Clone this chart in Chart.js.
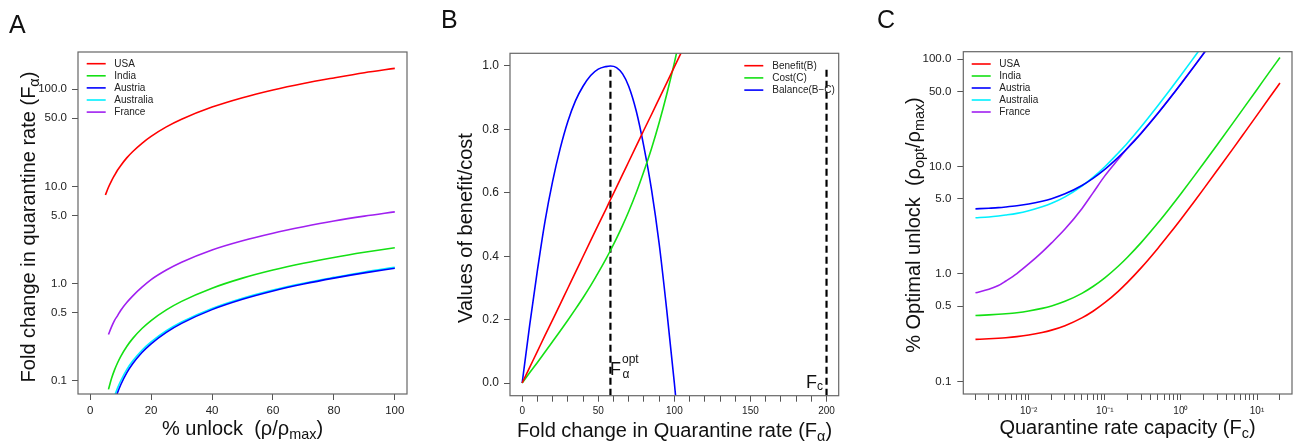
<!DOCTYPE html>
<html>
<head>
<meta charset="utf-8">
<script src="https://cdn.jsdelivr.net/npm/chart.js@4.4.1/dist/chart.umd.min.js"></script>
<style>
  html, body { margin: 0; padding: 0; background: #fff; }
  #fig { position: relative; width: 1298px; height: 445px; overflow: hidden;
         font-family: "Liberation Sans", Arial, sans-serif; color: #111; }
  canvas { position: absolute; top: 0; }
  .lbl { position: absolute; line-height: 1; white-space: pre; }
  .panel { font-size: 25px; }
  .xt { font-size: 20px; text-align: center; }
  .yt { font-size: 20px; text-align: center; height: 20px; transform: rotate(-90deg); }
  .lbl sub { font-size: 0.72em; vertical-align: -0.28em; line-height: 0; }
</style>
</head>
<body>
<div id="fig">
  <canvas id="chartA" width="430" height="445" style="left:0px"></canvas>
  <canvas id="chartB" width="430" height="445" style="left:430px"></canvas>
  <canvas id="chartC" width="438" height="445" style="left:860px"></canvas>

  <div class="lbl panel" style="left:9px;top:12px">A</div>
  <div class="lbl panel" style="left:441px;top:7px">B</div>
  <div class="lbl panel" style="left:877px;top:7px">C</div>

  <div class="lbl xt" style="left:78px;width:329px;top:418px">% unlock  (ρ/ρ<sub>max</sub>)</div>
  <div class="lbl yt" style="left:-161.9px;width:380px;top:216.7px">Fold change in quarantine rate (F<sub>α</sub>)</div>

  <div class="lbl xt" style="left:510px;width:329px;top:420px">Fold change in Quarantine rate (F<sub>α</sub>)</div>
  <div class="lbl yt" style="left:315.1px;width:300px;top:217.5px">Values of benefit/cost</div>
  <div class="lbl" style="left:610px;top:359.5px;font-size:18px">F</div>
  <div class="lbl" style="left:622px;top:352.8px;font-size:12px">opt</div>
  <div class="lbl" style="left:622.5px;top:367.8px;font-size:12px">α</div>
  <div class="lbl" style="left:806px;top:372.8px;font-size:18px">F</div>
  <div class="lbl" style="left:817px;top:380px;font-size:12px">c</div>

  <div class="lbl xt" style="left:963px;width:329px;top:417px">Quarantine rate capacity (F<sub>c</sub>)</div>
  <div class="lbl yt" style="left:753.1px;width:320px;top:215px">% Optimal unlock  (ρ<sub>opt</sub>/ρ<sub>max</sub>)</div>
</div>

<script>
// ---- panel A: fold change in quarantine rate vs % unlock ----
const unlockPct = [5, 6, 7, 8, 9, 10, 12, 14, 17, 20, 25, 30, 40, 50, 60, 70, 80, 90, 100];
const usaA       = [8.15, 9.78, 11.4, 13.0, 14.7, 16.3, 19.6, 22.8, 27.7, 32.6, 40.8, 48.9, 65.2, 81.5, 97.8, 114, 130, 147, 163];
const indiaA     = [null, 0.082, 0.106, 0.130, 0.154, 0.178, 0.226, 0.274, 0.346, 0.418, 0.538, 0.658, 0.898, 1.14, 1.38, 1.62, 1.86, 2.10, 2.34];
const austriaA   = [null, null, null, 0.061, 0.076, 0.091, 0.121, 0.151, 0.196, 0.241, 0.316, 0.391, 0.541, 0.691, 0.841, 0.991, 1.14, 1.29, 1.44];
const australiaA = [null, null, null, 0.070, 0.085, 0.100, 0.131, 0.161, 0.207, 0.252, 0.328, 0.404, 0.556, 0.708, 0.860, 1.01, 1.16, 1.32, 1.47];
const franceA    = [null, 0.30, 0.36, 0.42, 0.47, 0.53, 0.64, 0.75, 0.92, 1.10, 1.38, 1.66, 2.22, 2.76, 3.30, 3.84, 4.40, 4.94, 5.47];
const unlockTicks = [0, 20, 40, 60, 80, 100];
const foldTicksLog = [0.1, 0.5, 1, 5, 10, 50, 100];

// ---- panel B: benefit / cost / balance ----
const foldQ   = [0, 5, 10, 15, 20, 25, 30, 35, 40, 45, 50, 55, 58, 62, 66, 70, 75, 80, 85, 90, 95, 100, 105];
const benefit = [0, 0.050, 0.100, 0.150, 0.199, 0.249, 0.299, 0.349, 0.399, 0.449, 0.499, 0.548, 0.578, 0.618, 0.658, 0.698, 0.748, 0.798, 0.847, 0.897, 0.947, 0.997, 1.047];
const cost    = [0, 0.033, 0.065, 0.098, 0.131, 0.164, 0.198, 0.233, 0.269, 0.307, 0.348, 0.391, 0.418, 0.456, 0.497, 0.541, 0.601, 0.668, 0.740, 0.821, 0.911, 1.010, 1.120];
const balance = [0, 0.185, 0.355, 0.510, 0.636, 0.740, 0.825, 0.890, 0.936, 0.970, 0.990, 0.998, 1.000, 0.995, 0.975, 0.936, 0.857, 0.745, 0.610, 0.440, 0.230, 0.000, -0.250];
const fOpt = 58;
const fCap = 200;
const vlineY = [-0.04, 1.0];
const foldTicksB = [0, 10, 20, 30, 40, 50, 60, 70, 80, 90, 100, 110, 120, 130, 140, 150, 160, 170, 180, 190, 200];
const valueTicksB = [0, 0.2, 0.4, 0.6, 0.8, 1.0];

// ---- panel C: optimal unlock vs quarantine rate capacity ----
const capacity   = [0.002, 0.003, 0.004, 0.005, 0.007, 0.01, 0.015, 0.02, 0.03, 0.05, 0.07, 0.1, 0.15, 0.2, 0.3, 0.5, 0.7, 1, 1.5, 2, 3, 5, 7, 10, 15, 20];
const usaC       = [0.246, 0.249, 0.252, 0.255, 0.261, 0.27, 0.285, 0.30, 0.33, 0.39, 0.45, 0.54, 0.69, 0.84, 1.14, 1.74, 2.34, 3.24, 4.74, 6.24, 9.24, 15.2, 21.2, 30.2, 45.2, 60.2];
const indiaC     = [0.41, 0.416, 0.421, 0.426, 0.436, 0.452, 0.478, 0.504, 0.556, 0.66, 0.764, 0.92, 1.18, 1.44, 1.96, 3.0, 4.04, 5.6, 8.2, 10.8, 16.0, 26.4, 36.8, 52.4, 78.4, 104];
const austriaC   = [4.04, 4.10, 4.15, 4.21, 4.32, 4.48, 4.76, 5.03, 5.58, 6.68, 7.78, 9.43, 12.2, 14.9, 20.4, 31.4, 42.4, 58.9, 86.4, 114, 169, null, null, null, null, null];
const australiaC = [3.34, 3.40, 3.47, 3.54, 3.67, 3.88, 4.22, 4.55, 5.23, 6.59, 7.94, 9.97, 13.4, 16.7, 23.5, 37.1, 50.6, 70.9, 105, 139, null, null, null, null, null, null];
const franceC    = [0.668, 0.72, 0.78, 0.86, 1.01, 1.24, 1.60, 1.95, 2.62, 4.06, 5.7, 8.2, 11.7, 15.0, 20.6, 31.6, 42.6, 59.1, 86.6, 114.2, 169.5, null, null, null, null, null];
const capDecades = [-3, -2, -1, 0, 1];
const unlockTicksLog = [0.1, 0.5, 1, 5, 10, 50, 100];

const FONT = 'Liberation Sans';
const TICK_COLOR = '#555';
const colors = { usa: '#FF0000', india: '#14E014', austria: '#0000FF', australia: '#00F0FF', france: '#A020F0' };

function pts(xs, ys) {
    const out = [];
    xs.forEach((x, i) => { if (ys[i] !== null) out.push({ x: x, y: ys[i] }); });
    return out;
}

function curve(label, xs, ys, color) {
    return {
        label: label, data: pts(xs, ys), borderColor: color, backgroundColor: color,
        borderWidth: 1.6, pointRadius: 0, cubicInterpolationMode: 'monotone', clip: 0,
    };
}

function fixedTicks(values) {
    return (scale) => { scale.ticks = values.map(v => ({ value: v })); };
}

// legend drawn inside the plot box, R style
const insetLegend = {
    id: 'insetLegend',
    afterDraw(chart, args, opts) {
        const ctx = chart.ctx;
        ctx.save();
        ctx.font = opts.font;
        ctx.textBaseline = 'middle';
        ctx.fillStyle = '#222';
        let row = 0;
        chart.data.datasets.forEach(ds => {
            if (ds.noLegend) return;
            const y = opts.y + row * opts.dy;
            ctx.strokeStyle = ds.borderColor;
            ctx.lineWidth = 1.6;
            ctx.setLineDash([]);
            ctx.beginPath();
            ctx.moveTo(opts.x, y);
            ctx.lineTo(opts.x + opts.len, y);
            ctx.stroke();
            ctx.fillText(ds.label, opts.textX, y + 0.5);
            row++;
        });
        ctx.restore();
    }
};

const boxFrame = {
    id: 'boxFrame',
    afterDraw(chart) {
        const a = chart.chartArea;
        const ctx = chart.ctx;
        ctx.save();
        ctx.strokeStyle = '#666';
        ctx.lineWidth = 1.2;
        ctx.strokeRect(a.left, a.top, a.right - a.left, a.bottom - a.top);
        ctx.restore();
    }
};

function axis(type, min, max, tickValues, labelFn, fontSize, fit, pad) {
    return {
        type: type, min: min, max: max,
        afterBuildTicks: fixedTicks(tickValues),
        afterFit: fit,
        grid: { drawOnChartArea: false, drawTicks: true, tickLength: 6, color: TICK_COLOR, lineWidth: 1 },
        border: { display: false },
        ticks: {
            autoSkip: false, maxRotation: 0, minRotation: 0, padding: pad,
            color: '#222', font: { family: FONT, size: fontSize },
            callback: labelFn,
        },
    };
}

function baseOptions(padding, scales, legend) {
    return {
        responsive: false, animation: false, events: [],
        layout: { padding: padding },
        scales: scales,
        plugins: { legend: { display: false }, tooltip: { enabled: false }, insetLegend: legend },
    };
}

const oneDecimal = (v) => Number(v).toFixed(1);

// Panel A
new Chart(document.getElementById('chartA').getContext('2d'), {
    type: 'line',
    data: {
        datasets: [
            curve('USA', unlockPct, usaA, colors.usa),
            curve('India', unlockPct, indiaA, colors.india),
            curve('Austria', unlockPct, austriaA, colors.austria),
            curve('Australia', unlockPct, australiaA, colors.australia),
            curve('France', unlockPct, franceA, colors.france),
        ],
    },
    options: baseOptions(
        { top: 52, right: 23, left: 0, bottom: 0 },
        {
            x: axis('linear', -4, 104, unlockTicks, (v) => String(v), 11.5, (s) => { s.height = 51; }, 4),
            y: axis('logarithmic', 0.0735, 240, foldTicksLog, oneDecimal, 11.5, (s) => { s.width = 78; }, 5),
        },
        { x: 86.7, y: 63.7, dy: 12.1, len: 19, textX: 114.3, font: '10px ' + FONT }
    ),
    plugins: [insetLegend, boxFrame],
});

// Panel B
const vline = (x) => ({
    data: pts([x, x], vlineY), borderColor: '#000', borderWidth: 2.2, borderDash: [7, 4],
    pointRadius: 0, tension: 0, noLegend: true, clip: 0,
});

new Chart(document.getElementById('chartB').getContext('2d'), {
    type: 'line',
    data: {
        datasets: [
            curve('Benefit(B)', foldQ, benefit, '#FF0000'),
            curve('Cost(C)', foldQ, cost, colors.india),
            curve('Balance(B\u2212C)', foldQ, balance, '#0000FF'),
            vline(fOpt),
            vline(fCap),
        ],
    },
    options: baseOptions(
        { top: 53.3, right: 21.3, left: 0, bottom: 0 },
        {
            x: axis('linear', -8, 208, foldTicksB, (v) => (v % 50 === 0 ? String(v) : ''), 10, (s) => { s.height = 49.3; }, 4),
            y: axis('linear', -0.04, 1.04, valueTicksB, oneDecimal, 12, (s) => { s.width = 80; }, 5),
        },
        { x: 314.3, y: 65.7, dy: 12.2, len: 19, textX: 342.3, font: '10px ' + FONT }
    ),
    plugins: [insetLegend, boxFrame],
});

// Panel C
const supDigits = { '-': '\u207B', '0': '\u2070', '1': '\u00B9', '2': '\u00B2', '3': '\u00B3' };
const capTicks = [];
capDecades.forEach(k => {
    for (let m = 1; m <= 9; m++) {
        const v = Number((m * Math.pow(10, k)).toPrecision(2));
        if (v >= 0.002 && v <= 20) capTicks.push(v);
    }
});
const capLabel = (v) => {
    const k = Math.round(Math.log10(v));
    if (Math.abs(Math.pow(10, k) - v) > v * 1e-6) return '';
    return '10' + String(k).split('').map(c => supDigits[c]).join('');
};

new Chart(document.getElementById('chartC').getContext('2d'), {
    type: 'line',
    data: {
        datasets: [
            curve('USA', capacity, usaC, colors.usa),
            curve('India', capacity, indiaC, colors.india),
            curve('Austria', capacity, austriaC, colors.austria),
            curve('Australia', capacity, australiaC, colors.australia),
            curve('France', capacity, franceC, colors.france),
        ],
    },
    options: baseOptions(
        { top: 51.7, right: 6, left: 0, bottom: 0 },
        {
            x: axis('logarithmic', 0.001384, 28.8, capTicks, capLabel, 10, (s) => { s.height = 51; }, 5),
            y: axis('logarithmic', 0.0762, 117.7, unlockTicksLog, oneDecimal, 11.5, (s) => { s.width = 103.3; }, 6),
        },
        { x: 111.7, y: 64, dy: 12, len: 19, textX: 139.3, font: '10px ' + FONT }
    ),
    plugins: [insetLegend, boxFrame],
});
</script>
</body>
</html>
